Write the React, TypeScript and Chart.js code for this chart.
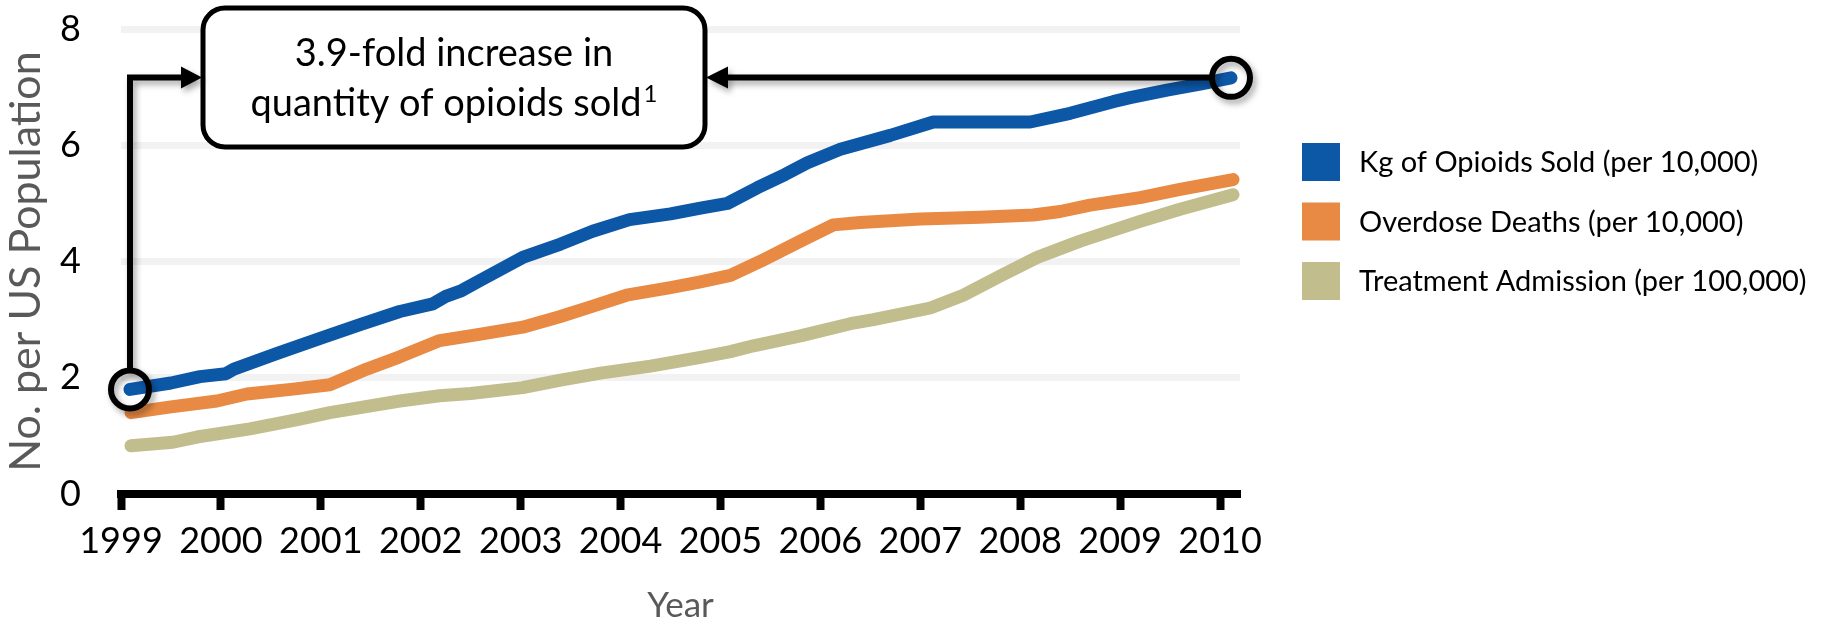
import React, { useEffect, useRef } from "react";
import { Chart, registerables } from "chart.js";

Chart.register(...registerables);

const FONT = "Lato, 'Open Sans', 'DejaVu Sans', sans-serif";

// ---- tick labels ----
const xTickYears = [1999, 2000, 2001, 2002, 2003, 2004, 2005, 2006, 2007, 2008, 2009, 2010];
const yTickValues = [0, 2, 4, 6, 8];

// ---- series: Kg of opioids sold (per 10,000) ----
const opioidYears = [
  1999.09, 1999.5, 1999.79, 2000.05, 2000.13, 2000.55, 2001.0, 2001.4, 2001.79, 2002.12,
  2002.25, 2002.41, 2002.6, 2003.02, 2003.4, 2003.72, 2004.09, 2004.5, 2004.8, 2005.07,
  2005.37, 2005.65, 2005.87, 2006.2, 2006.7, 2007.13, 2008.1, 2008.5, 2008.93, 2009.1,
  2009.47, 2009.8, 2010.11,
];
const opioidValues = [
  1.8, 1.91, 2.02, 2.07, 2.15, 2.41, 2.68, 2.92, 3.14, 3.27,
  3.4, 3.5, 3.68, 4.07, 4.3, 4.52, 4.72, 4.82, 4.92, 5.0,
  5.27, 5.5, 5.7, 5.93, 6.17, 6.4, 6.4, 6.55, 6.75, 6.82,
  6.95, 7.05, 7.16,
];

// ---- series: overdose deaths (per 10,000) ----
const deathYears = [
  1999.1, 1999.5, 1999.96, 2000.26, 2000.7, 2001.09, 2001.46, 2001.79, 2002.19, 2002.6,
  2003.02, 2003.39, 2003.7, 2004.06, 2004.5, 2004.8, 2005.1, 2005.43, 2005.8, 2006.13,
  2006.4, 2007.0, 2007.6, 2008.13, 2008.4, 2008.7, 2009.2, 2009.6, 2010.13,
];
const deathValues = [
  1.4, 1.5, 1.6, 1.72, 1.8, 1.88, 2.15, 2.36, 2.64, 2.75,
  2.87, 3.05, 3.22, 3.42, 3.55, 3.65, 3.76, 4.03, 4.35, 4.63,
  4.67, 4.73, 4.76, 4.8, 4.86, 4.97, 5.1, 5.24, 5.41,
];

// ---- series: treatment admission (per 100,000) ----
const treatmentYears = [
  1999.1, 1999.52, 1999.76, 2000.29, 2000.79, 2001.09, 2001.79, 2002.19, 2002.5, 2003.02,
  2003.4, 2003.8, 2004.3, 2004.8, 2005.1, 2005.33, 2005.8, 2006.3, 2006.53, 2007.1,
  2007.43, 2007.8, 2008.17, 2008.6, 2009.2, 2009.6, 2010.13,
];
const treatmentValues = [
  0.83, 0.89, 0.98, 1.12, 1.29, 1.4, 1.6, 1.69, 1.73, 1.83,
  1.96, 2.08, 2.2, 2.35, 2.45, 2.55, 2.72, 2.93, 3.0, 3.2,
  3.42, 3.75, 4.07, 4.35, 4.69, 4.9, 5.15,
];

const seriesLabels = [
  "Kg of Opioids Sold (per 10,000)",
  "Overdose Deaths (per 10,000)",
  "Treatment Admission (per 100,000)",
];
const seriesColors = ["#0d57a7", "#e88a43", "#c2bd8c"];

const xTitle = "Year";
const yTitle = "No. per US Population";
const calloutLines = ["3.9-fold increase in", "quantity of opioids sold"];
const calloutSup = "1";

function toPoints(xs: number[], ys: number[]) {
  return xs.map((x, i) => ({ x, y: ys[i] }));
}

const overlayPlugin = {
  id: "overlay",
  afterDraw(chart: any) {
    const ctx = chart.ctx as CanvasRenderingContext2D;
    const ca = chart.chartArea;

    // ---- legend ----
    ctx.save();
    const lx = ca.right + 62;
    const ly0 = 143;
    const gap = 59.5;
    ctx.font = `29px ${FONT}`;
    ctx.textBaseline = "middle";
    ctx.textAlign = "left";
    seriesLabels.forEach((lab, i) => {
      const y = ly0 + i * gap;
      ctx.fillStyle = seriesColors[i];
      ctx.fillRect(lx, y, 38, 38);
      ctx.fillStyle = "#000";
      ctx.fillText(lab, lx + 57, y + 20);
    });
    ctx.restore();

    // ---- callout ----
    const meta = chart.getDatasetMeta(0);
    const first = meta.data[0];
    const last = meta.data[meta.data.length - 1];
    const box = { l: 203, t: 8, r: 705, b: 147, rad: 22 };
    const ay = (box.t + box.b) / 2;
    const circR = 19;

    ctx.save();
    ctx.beginPath();
    (ctx as any).roundRect(box.l, box.t, box.r - box.l, box.b - box.t, box.rad);
    ctx.fillStyle = "#fff";
    ctx.fill();
    ctx.lineWidth = 5;
    ctx.strokeStyle = "#000";
    ctx.stroke();

    ctx.shadowColor = "rgba(0,0,0,0.35)";
    ctx.shadowBlur = 6;
    ctx.shadowOffsetX = 3;
    ctx.shadowOffsetY = 4;
    ctx.strokeStyle = "#000";
    ctx.fillStyle = "#000";
    ctx.lineWidth = 6;
    ctx.lineJoin = "miter";
    // left bracket
    ctx.beginPath();
    ctx.moveTo(first.x, first.y - circR);
    ctx.lineTo(first.x, ay);
    ctx.lineTo(box.l - 20, ay);
    ctx.stroke();
    ctx.beginPath();
    ctx.moveTo(box.l - 22, ay - 11);
    ctx.lineTo(box.l - 1, ay);
    ctx.lineTo(box.l - 22, ay + 11);
    ctx.closePath();
    ctx.fill();
    // right arrow
    ctx.beginPath();
    ctx.moveTo(last.x - circR, ay);
    ctx.lineTo(box.r + 20, ay);
    ctx.stroke();
    ctx.beginPath();
    ctx.moveTo(box.r + 23, ay - 11);
    ctx.lineTo(box.r + 1, ay);
    ctx.lineTo(box.r + 23, ay + 11);
    ctx.closePath();
    ctx.fill();
    // circles
    ctx.lineWidth = 6;
    [first, last].forEach((p: any) => {
      ctx.beginPath();
      ctx.arc(p.x, p.y, circR, 0, Math.PI * 2);
      ctx.stroke();
    });
    ctx.restore();

    // callout text
    ctx.save();
    ctx.fillStyle = "#000";
    ctx.textBaseline = "middle";
    ctx.textAlign = "left";
    const cx = (box.l + box.r) / 2;
    ctx.font = `38px ${FONT}`;
    const w1 = ctx.measureText(calloutLines[0]).width;
    ctx.fillText(calloutLines[0], cx - w1 / 2, 54);
    const w2 = ctx.measureText(calloutLines[1]).width;
    ctx.font = `24px ${FONT}`;
    const ws = ctx.measureText(calloutSup).width;
    const start = cx - (w2 + ws + 2) / 2;
    ctx.font = `38px ${FONT}`;
    ctx.fillText(calloutLines[1], start, 104);
    ctx.font = `24px ${FONT}`;
    ctx.fillText(calloutSup, start + w2 + 2, 94);
    ctx.restore();
  },
};

export default function App() {
  const canvasRef = useRef<HTMLCanvasElement | null>(null);

  useEffect(() => {
    document.body.style.margin = "0";
    const canvas = canvasRef.current;
    if (!canvas) return;
    const chart = new Chart(canvas, {
      type: "line",
      data: {
        datasets: [
          { label: seriesLabels[0], data: toPoints(opioidYears, opioidValues) },
          { label: seriesLabels[1], data: toPoints(deathYears, deathValues) },
          { label: seriesLabels[2], data: toPoints(treatmentYears, treatmentValues) },
        ].map((d, i) => ({
          ...d,
          borderColor: seriesColors[i],
          backgroundColor: seriesColors[i],
          borderWidth: 13,
          borderCapStyle: "round" as const,
          borderJoinStyle: "round" as const,
          pointRadius: 0,
          tension: 0,
          fill: false,
        })),
      },
      options: {
        animation: false,
        responsive: true,
        maintainAspectRatio: false,
        layout: { padding: { left: 0, top: 29, right: 585, bottom: 0 } },
        plugins: { legend: { display: false }, tooltip: { enabled: false } },
        scales: {
          x: {
            type: "linear",
            min: 1999,
            max: 2010.2,
            afterBuildTicks: (s: any) => {
              s.ticks = xTickYears.map((v) => ({ value: v }));
            },
            afterFit: (s: any) => {
              s.height = 127;
              s.paddingLeft = 0;
              s.paddingRight = 0;
            },
            ticks: {
              autoSkip: false,
              maxRotation: 0,
              padding: 10,
              color: "#000",
              font: { family: FONT, size: 36 },
              callback: (v: any) => String(v),
            },
            grid: {
              display: true,
              drawOnChartArea: false,
              drawTicks: true,
              tickLength: 16,
              tickWidth: 8,
              tickColor: "#000",
            },
            border: { display: true, color: "#000", width: 8 },
            title: {
              display: true,
              text: xTitle,
              color: "#595959",
              font: { family: FONT, size: 35 },
              padding: { top: 0, bottom: -6 },
            },
          },
          y: {
            min: 0,
            max: 8,
            afterBuildTicks: (s: any) => {
              s.ticks = yTickValues.map((v) => ({ value: v }));
            },
            afterFit: (s: any) => {
              s.width = 121;
              s.paddingTop = 0;
              s.paddingBottom = 0;
            },
            ticks: {
              padding: 40,
              color: "#000",
              font: { family: FONT, size: 36 },
              callback: (v: any) => String(v),
            },
            grid: {
              color: (c: any) => (c.tick && c.tick.value === 0 ? "rgba(0,0,0,0)" : "#f2f2f2"),
              lineWidth: 7,
              drawTicks: false,
            },
            border: { display: false },
            title: {
              display: true,
              text: yTitle,
              color: "#595959",
              font: { family: FONT, size: 43 },
              padding: { top: 0, bottom: 0 },
            },
          },
        },
      },
      plugins: [overlayPlugin],
    });
    return () => chart.destroy();
  }, []);

  return (
    <div style={{ position: "relative", width: "1825px", height: "621px" }}>
      <canvas ref={canvasRef} />
    </div>
  );
}
